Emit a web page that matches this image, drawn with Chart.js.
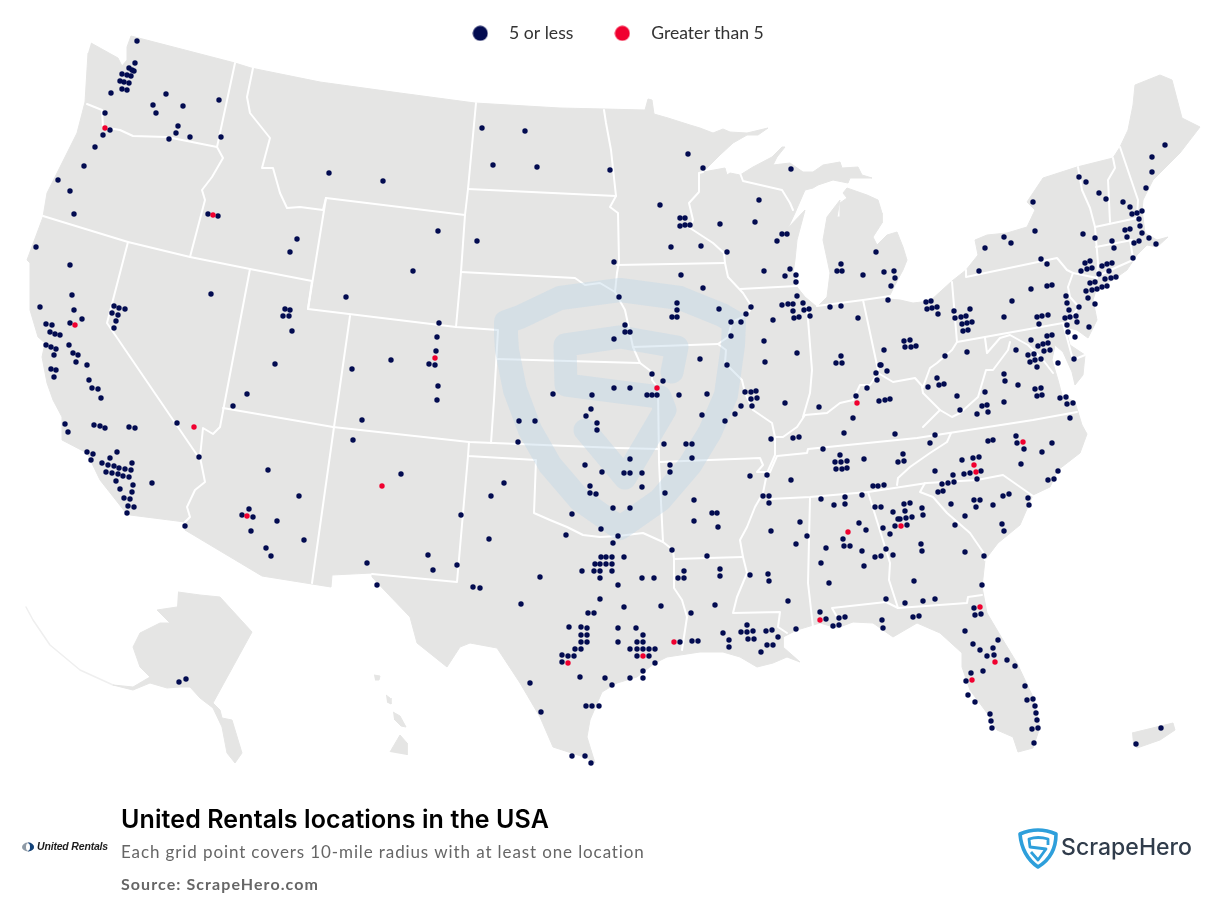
<!DOCTYPE html>
<html><head><meta charset="utf-8">
<style>html,body{margin:0;padding:0;background:#fff}canvas{display:block}</style>
<script src="https://cdn.jsdelivr.net/npm/chart.js@4/dist/chart.umd.min.js"></script>
</head><body><canvas id="c" width="1224" height="902"></canvas>
<script>
const seriesNames=["5 or less","Greater than 5"];
const titleText="United Rentals locations in the USA";
const subtitleText="Each grid point covers 10-mile radius with at least one location";
const sourceText="Source: ScrapeHero.com";
const fiveOrLess=[[137,41],[135,63],[129,68],[132,70],[134,71],[122,74],[127,75],[131,76],[120,81],[124,82],[129,83],[122,89],[127,90],[111,93],[166,94],[153,105],[156,113],[183,106],[219,100],[105,113],[178,126],[176,133],[169,139],[190,137],[221,137],[110,130],[103,135],[95,147],[84,166],[58,180],[70,191],[74,214],[208,214],[218,216],[297,239],[290,252],[36,247],[70,265],
[72,295],[211,294],[40,307],[74,310],[114,306],[119,308],[125,309],[112,313],[118,315],[116,321],[114,328],[82,319],[46,324],[52,325],[70,323],[50,332],[55,334],[60,335],[46,345],[51,347],[56,349],[69,345],[73,353],[78,355],[54,355],[76,362],[87,365],[51,369],[56,370],[54,377],[89,380],[92,388],[98,389],[101,398],[65,424],[68,432],[94,425],[100,426],[105,428],[129,427],[135,428],[177,423],[199,457],[117,452],[87,452],[93,454],[91,460],[110,458],[132,463],[102,463],[108,465],[114,466],[119,468],[125,469],[131,470],[106,472],[112,473],[118,474],[123,476],[129,477],[116,481],[152,483],[133,485],[120,489],[132,492],[124,498],[130,499],[128,506],[134,507],[127,513],[185,526],
[285,309],[290,310],[283,316],[289,316],[292,331],[275,364],[247,394],[233,406],[268,470],[299,496],[249,509],[242,515],[253,517],[277,521],[251,531],[304,540],[266,548],[271,556],
[482,128],[525,131],[493,165],[537,167],[610,170],[329,173],[383,181],[438,231],[477,241],[413,271],[614,262],[346,297],[619,297],[439,323],[437,337],[436,351],[429,364],[435,365],[614,339],[438,386],[437,400],[352,369],[391,360],[553,394],[592,395],[614,388],
[591,409],[586,416],[597,423],[597,430],[519,421],[535,421],[362,420],[353,440],[518,442],[585,465],[602,472],[401,474],[504,483],[590,486],[491,496],[590,493],[596,494],[613,508],[572,514],[461,515],[601,529],[566,535],[618,536],[489,539],[613,543],[428,555],[601,557],[606,557],[612,557],[595,564],[600,564],[606,564],[612,564],[582,571],[594,571],[600,571],[612,571],[600,578],[367,563],[433,570],[457,565],[540,577],[377,585],[473,587],[480,588],[618,585],[521,604],[600,599],[588,613],[594,613],[569,627],[581,627],[587,628],[618,628],[581,635],[587,635],[581,642],[587,642],[618,642],[575,649],[581,649],[562,655],[568,656],[574,656],[562,662],[580,677],[605,678],[530,683],[612,685],[586,706],[592,706],[599,706],[541,712],[572,756],[585,756],[591,763],
[688,154],[703,168],[791,169],[660,205],[759,200],[680,218],[685,218],[680,226],[685,225],[690,225],[720,224],[755,222],[782,234],[787,234],[777,241],[671,247],[701,246],[727,252],[876,252],[841,264],[837,271],[842,271],[884,272],[894,271],[764,271],[790,269],[785,276],[796,275],[863,275],[895,278],[796,282],[891,286],[681,275],[703,288],[797,296],[888,300],[803,303],[782,305],[788,304],[793,304],[677,303],[830,307],[841,306],[751,307],[677,310],[719,309],[793,311],[804,310],[809,309],[746,314],[810,316],[672,317],[677,317],[794,318],[799,317],[858,318],[773,320],[731,322],[741,322],[625,325],[625,332],[630,332],[731,336],[764,341],[884,350],[797,353],[841,356],[700,359],[836,363],[842,363],[765,362],[880,365],[881,365],[727,365],[887,371],[876,373],[652,374],[877,380],[663,381],[867,388],[630,388],[647,395],[652,395],[657,395],[679,395],[707,394],[745,392],[751,392],[756,391],[751,399],[757,398],[856,396],[879,401],[885,400],[890,399],[741,406],[752,406],[785,403],[819,407],[735,414],[702,415],[853,418],[725,421],[844,433],[895,434],[771,439],[793,438],[799,437],
[664,444],[686,444],[692,444],[630,459],[692,458],[823,449],[840,455],[835,462],[841,462],[847,461],[864,459],[898,462],[670,465],[670,472],[624,473],[630,473],[642,473],[750,476],[767,475],[836,469],[842,469],[847,468],[791,480],[642,487],[873,486],[878,486],[884,485],[665,493],[763,496],[769,496],[769,503],[862,495],[821,499],[845,497],[845,504],[834,505],[694,500],[875,507],[881,507],[893,512],[630,508],[712,513],[717,513],[898,519],[694,521],[800,522],[859,523],[895,526],[883,528],[866,530],[771,531],[718,527],[890,534],[807,536],[843,539],[796,544],[844,546],[850,546],[826,548],[672,550],[886,549],[862,551],[893,555],[875,557],[881,556],[707,556],[624,557],[821,563],[864,566],[720,569],[684,571],[720,576],[678,578],[684,578],[642,578],[654,578],[750,575],[768,574],[769,581],[829,583],[886,599],[788,601],[624,607],[661,606],[715,605],[820,612],[691,613],[826,619],[839,618],[845,617],[882,620],[636,628],[747,625],[883,628],[796,629],[833,626],[839,625],[772,630],[766,631],[741,632],[747,632],[753,631],[643,635],[723,633],[778,637],[637,642],[643,642],[748,639],[754,639],[729,640],[680,642],[692,641],[698,641],[767,645],[773,645],[729,647],[630,649],[637,649],[643,649],[649,649],[655,649],[761,652],[637,656],[649,656],[655,663],[643,671],[630,678],[643,678],
[1165,145],[1152,157],[1152,172],[1079,177],[1086,182],[1146,188],[1099,193],[1106,199],[1033,202],[1123,202],[1130,207],[1142,211],[1137,213],[1132,214],[1139,219],[1140,226],[1130,229],[1125,230],[1142,233],[1127,237],[1149,238],[1139,241],[1134,243],[1156,244],[1035,231],[1083,234],[1095,238],[1112,241],[1114,248],[1004,237],[1011,243],[985,248],[1041,259],[1047,264],[1133,258],[1085,263],[1090,261],[1102,266],[1107,264],[1112,263],[1081,271],[1087,269],[1092,268],[1109,271],[1099,274],[979,271],[1105,279],[1111,278],[1116,277],[1090,283],[1095,282],[1047,286],[1052,285],[1031,289],[1107,286],[1102,287],[1097,289],[1092,290],[1086,291],[1066,296],[1088,298],[926,302],[931,301],[1012,301],[1067,303],[1095,304],[927,309],[932,308],[937,307],[938,314],[954,311],[970,309],[1079,307],[1069,310],[961,317],[966,316],[955,318],[1037,317],[1042,316],[1048,315],[1004,317],[1065,318],[1070,317],[1076,316],[1077,322],[962,324],[967,323],[972,322],[1039,324],[1067,325],[1089,327],[963,331],[968,330],[1068,332],[1047,336],[1052,335],[1075,337],[1031,340],[904,341],[910,340],[1048,343],[1043,344],[1038,346],[905,347],[911,347],[916,346],[1044,351],[1050,350],[1016,350],[967,352],[1028,355],[1034,354],[945,356],[1041,359],[1035,360],[1030,362],[1074,359],[1058,363],[1037,367],[1004,374],[937,378],[1005,381],[1018,385],[939,385],[944,384],[928,387],[1035,389],[1041,388],[957,396],[985,392],[1037,396],[1042,395],[1060,398],[1066,397],[987,405],[982,406],[1067,404],[1073,403],[1004,402],[960,410],[988,412],[977,414],[1070,418],
[935,435],[930,443],[1016,436],[988,441],[993,440],[1017,443],[1024,449],[1052,443],[1042,452],[973,458],[979,457],[962,460],[1021,464],[903,454],[904,461],[935,471],[953,475],[964,474],[970,473],[981,471],[977,479],[1058,471],[1054,479],[1048,480],[942,484],[948,483],[954,482],[943,491],[938,492],[1028,498],[1009,494],[1003,496],[974,500],[980,500],[993,505],[1029,505],[976,507],[951,504],[904,504],[910,503],[922,508],[905,511],[923,515],[906,518],[912,517],[900,519],[965,516],[1002,524],[1004,531],[955,525],[907,525],[921,544],[922,551],[965,552],[984,556],[914,581],[982,585],[905,603],[923,601],[935,599],[974,608],[975,615],[981,614],[913,617],[919,616],[965,631],[998,640],[973,644],[993,648],[980,650],[994,655],[987,656],[1007,660],[1015,666],[983,671],[971,673],[966,681],[1025,686],[968,695],[1033,699],[1027,700],[975,702],[1035,706],[1036,713],[990,714],[1037,720],[991,721],[1038,728],[1032,729],[992,728],[1034,743],
[179,682],[186,679],[1161,728],[1136,744]];
const greaterThanFive=[[105,128],[213,215],[75,325],[194,427],[247,516],[435,358],[382,486],[568,663],[657,388],[857,403],[674,642],[848,532],[820,620],[643,656],[1023,442],[974,465],[976,472],[901,526],[980,607],[995,662],[972,680]];

const mainland=[[91,43],[118,58],[122,66],[127,60],[127,47],[131,36],[235,63],[251,68],[320,82],[400,93],[475,103],[560,108],[604,109],[645,110],[648,99],[652,100],[654,114],[668,118],[690,125],[700,128],[713,133],[723,129],[730,132],[747,133],[768,128],[758,135],[747,135],[733,143],[720,155],[703,172],[725,168],[727,175],[730,173],[740,175],[753,167],[772,157],[782,147],[785,147],[777,157],[773,165],[790,163],[803,172],[813,172],[823,165],[840,162],[842,168],[858,167],[862,175],[872,178],[850,178],[848,183],[833,180],[818,185],[813,188],[805,190],[795,213],[788,228],[805,210],[797,240],[795,260],[793,273],[797,287],[805,297],[817,307],[827,297],[830,273],[823,240],[827,217],[840,200],[837,217],[840,217],[840,203],[847,198],[843,193],[847,188],[867,195],[878,200],[882,213],[882,223],[873,237],[877,245],[887,235],[897,232],[903,247],[907,260],[903,270],[895,285],[888,299],[900,300],[913,303],[930,301],[952,281],[966,270],[978,255],[975,240],[987,235],[1007,233],[1027,227],[1035,210],[1027,202],[1043,178],[1077,167],[1113,158],[1120,147],[1128,130],[1133,105],[1135,85],[1160,75],[1172,80],[1182,118],[1200,127],[1190,140],[1180,153],[1170,163],[1153,180],[1143,200],[1142,210],[1143,217],[1145,233],[1157,240],[1168,237],[1157,247],[1147,245],[1137,255],[1127,270],[1113,280],[1097,287],[1093,300],[1097,320],[1088,338],[1077,330],[1065,327],[1070,345],[1085,355],[1083,375],[1075,385],[1072,372],[1063,352],[1055,345],[1052,360],[1058,380],[1062,395],[1075,402],[1078,412],[1082,425],[1087,434],[1080,453],[1058,470],[1050,487],[1033,495],[1020,525],[998,543],[985,560],[982,587],[987,613],[1003,640],[1017,663],[1033,697],[1040,727],[1033,748],[1018,752],[1013,737],[997,730],[987,713],[970,690],[962,667],[962,653],[940,633],[917,623],[893,637],[873,623],[853,622],[837,628],[820,623],[797,630],[783,637],[783,647],[800,662],[787,657],[773,663],[757,667],[740,657],[723,652],[700,652],[667,657],[655,663],[637,677],[617,683],[602,692],[590,720],[587,737],[595,763],[587,758],[553,747],[540,717],[520,683],[497,648],[470,643],[460,647],[447,667],[417,643],[410,617],[387,593],[372,577],[372,573],[332,575],[331,587],[312,584],[262,576],[185,530],[185,522],[130,515],[126,513],[100,480],[87,453],[62,440],[62,417],[53,400],[47,383],[42,357],[45,343],[38,337],[30,310],[30,287],[30,263],[27,260],[43,217],[47,193],[77,133],[85,102],[88,53]];
const alaska=[[178,592],[200,595],[220,597],[252,632],[213,703],[220,710],[222,718],[232,720],[242,753],[235,763],[227,753],[222,727],[213,708],[200,698],[190,687],[180,687],[167,688],[150,683],[133,690],[113,685],[133,687],[150,677],[140,667],[133,647],[140,633],[160,623],[170,623],[157,610],[177,607]];
const hawaiiBig=[[390,752],[400,735],[407,743],[407,755]];
const hawaiiMaui=[[393,712],[400,716],[406,727],[401,726],[394,719]];
const hawaiiOahu=[[386,695],[390,698],[391,704],[387,702]];
const hawaiiKauai=[[374,675],[380,676],[379,680],[375,680]];
const puertoRico=[[1132,733],[1173,723],[1175,730],[1160,740],[1137,748],[1133,743]];
const aleutians=[[113,685],[80,670],[50,645],[33,620],[26,607]];
const stateBorders=[
[[87,104],[102,110],[103,127],[120,130],[133,136],[167,137],[217,147]],
[[235,63],[217,147],[223,158],[212,177],[202,190],[205,200],[190,257]],
[[253,68],[247,97],[250,113],[270,138],[262,168],[273,168],[280,193],[287,208],[300,207],[323,210],[326,198]],
[[326,198],[465,215],[461,272],[456,327]],
[[326,198],[308,309],[456,327],[498,330],[494,400],[491,443]],
[[461,272],[575,278],[585,285],[600,283],[615,292],[625,310],[633,347],[640,363],[652,372],[652,380],[658,388],[659,462],[663,542]],
[[497,359],[640,363]],
[[333,427],[469,442],[618,448],[659,449]],
[[469,442],[468,456],[536,460],[534,513],[550,520],[567,527],[583,535],[600,537],[618,536],[643,533],[663,542],[673,550],[674,559],[743,557]],
[[468,456],[457,582],[372,574]],
[[674,559],[674,588],[682,600],[687,617],[682,650]],
[[468,189],[616,196]],
[[476,103],[468,189],[465,215]],
[[604,110],[606,123],[611,150],[615,187],[616,196],[610,207],[618,213],[619,262],[617,273],[615,292]],
[[617,265],[725,263]],
[[703,172],[699,173],[699,192],[689,203],[693,220],[690,228],[713,243],[724,253],[725,263],[728,277],[743,293],[752,307],[747,315],[732,322],[728,337],[718,344],[726,350],[725,363],[742,380],[745,393],[753,410],[772,423],[775,437],[775,455],[767,473],[763,493],[755,507],[747,527],[740,540],[743,557],[747,573],[737,597],[733,613],[780,612],[778,627],[787,633]],
[[633,347],[718,344]],
[[659,462],[760,458],[763,465],[757,472],[770,472],[777,456],[807,453],[808,449],[917,438],[1033,420],[1077,412]],
[[810,498],[808,583],[813,627]],
[[770,499],[810,497],[868,492],[927,483],[977,480],[1003,475],[1033,496]],
[[897,485],[898,478],[910,467],[930,453],[947,442],[951,433]],
[[925,483],[920,492],[933,497],[947,513],[970,533],[983,552],[985,560]],
[[868,492],[890,563],[889,580],[898,608]],
[[837,617],[832,608],[886,602],[898,608],[967,603],[968,597],[982,595]],
[[807,307],[812,370],[810,393],[803,417]],
[[775,437],[783,437],[797,427],[805,415],[827,413],[840,403],[853,400],[860,385],[870,385],[878,373],[893,382],[915,378],[923,387],[930,368],[937,363],[952,350],[957,342],[952,282]],
[[863,300],[878,370]],
[[817,306],[863,300],[897,295]],
[[740,289],[797,286]],
[[740,173],[743,181],[782,190],[790,203],[793,210]],
[[966,270],[966,277],[1057,258],[1067,270],[1073,273],[1097,278]],
[[1073,273],[1068,287],[1070,297],[1079,307],[1067,323]],
[[957,342],[1063,323],[1073,360],[1085,355]],
[[985,338],[987,353],[1000,338],[1010,335],[1028,345],[1043,360],[1053,373]],
[[1010,342],[1008,350],[993,370],[986,370],[978,397],[960,413],[952,417],[940,410],[923,393],[922,387]],
[[940,410],[923,427]],
[[1078,167],[1082,190],[1090,208],[1095,227],[1098,263],[1097,278]],
[[1113,158],[1115,168],[1108,180],[1110,222]],
[[1095,227],[1137,218]],
[[1096,247],[1132,240]],
[[1130,240],[1133,258]],
[[1120,147],[1138,200],[1137,217]],
[[1098,276],[1115,268],[1133,260]],
[[43,216],[128,242],[190,257],[250,269],[312,281],[308,309]],
[[128,242],[107,323],[197,455]],
[[250,269],[220,427],[213,434],[203,428],[200,457],[205,482],[195,490],[187,507],[190,517],[185,522]],
[[350,316],[338,400],[334,427],[312,583]],
[[223,408],[333,427]]
];
const watermarkOuter=[[507,350],[506,335],[506,322],[520,317],[560,298],[620,290],[680,298],[722,315],[734,322],[733,345],[726,395],[710,432],[690,465],[660,500],[620,528],[580,500],[550,465],[530,430],[515,390],[507,350]];
const watermarkInner=[[672,372],[677,347],[620,337],[565,345],[566,385],[620,392],[660,397],[665,410],[625,478],[585,430]];

const toPts=a=>a.map(p=>({x:p[0],y:p[1]}));
const land="#E5E5E4";
const shape=(d)=>({data:toPts(d),showLine:true,fill:'shape',backgroundColor:land,borderColor:land,borderWidth:1,pointRadius:0,tension:0,label:''});
const line=(d,c,w)=>({data:toPts(d),showLine:true,fill:false,borderColor:c,borderWidth:w,pointRadius:0,tension:0,label:'',borderJoinStyle:'round',borderCapStyle:'round'});
const navy="#020B50",red="#F0002F";
const dots=(name,d,c)=>({label:name,data:toPts(d),backgroundColor:c,borderColor:c,borderWidth:0,pointRadius:2.7,pointHoverRadius:2.7,showLine:false});
function swatch(c){const k=document.createElement('canvas');k.width=16;k.height=16;const g=k.getContext('2d');g.fillStyle=c;g.beginPath();g.arc(8,8,7.5,0,Math.PI*2);g.fill();return k;}
const swatches=[swatch(navy),swatch(red)];

const datasets=[
 dots(seriesNames[1],greaterThanFive,red),
 dots(seriesNames[0],fiveOrLess,navy),
 line(watermarkInner,"rgba(190,215,232,0.42)",23),
 line(watermarkOuter,"rgba(190,215,232,0.42)",24),
 ...stateBorders.map(b=>line(b,"#FFFFFF",2)),
 shape(alaska),shape(hawaiiBig),shape(hawaiiMaui),shape(hawaiiOahu),shape(hawaiiKauai),shape(puertoRico),
 line(aleutians,"#EFEFEF",1.5),
 shape(mainland)
];
function fitText(g,text,x,y,font,color,width){g.font=font;g.fillStyle=color;g.textBaseline='middle';g.textAlign='left';g.letterSpacing='0px';
 const w=g.measureText(text).width;g.letterSpacing=((width-w)/text.length).toFixed(3)+'px';g.fillText(text,x,y);g.letterSpacing='0px';}
const fullArea={id:'fullArea',afterLayout(ch){const a=ch.chartArea,y=ch.scales.y;a.top=0;a.height=a.bottom;y.top=0;y.height=y.bottom;y.configure();}};
const captions={id:'captions',afterDraw(ch){const g=ch.ctx;g.save();
 fitText(g,titleText,121,820,'600 25px Inter, Lato',"#000",428);
 fitText(g,subtitleText,121,852.5,'400 17px Lato',"#666",524);
 fitText(g,sourceText,121,884.5,'700 16px Lato',"#666",198);
 // United Rentals logo
 g.fillStyle="#8E9AA6";g.beginPath();g.ellipse(28,847,6,4.4,0,0,Math.PI*2);g.fill();
 g.fillStyle="#12427A";g.beginPath();g.ellipse(28,847,6,4.4,0,-Math.PI/2,Math.PI/2);g.fill();
 g.fillStyle="#fff";g.beginPath();g.ellipse(28,847,2,3.8,0,0,Math.PI*2);g.fill();
 fitText(g,"United Rentals",37,847,'italic 700 10.5px "Liberation Sans"',"#1c1c1c",71);
 // ScrapeHero logo
 g.strokeStyle="#2E9FDB";g.lineJoin='round';g.lineWidth=3.6;g.beginPath();
 g.moveTo(1020,834);g.quadraticCurveTo(1038,826,1056,834);g.quadraticCurveTo(1056,856,1038,867);g.quadraticCurveTo(1022,856,1020,834);g.closePath();g.stroke();
 g.lineWidth=2.8;g.beginPath();g.moveTo(1048,845);g.lineTo(1048,839);g.quadraticCurveTo(1038,836,1029,839);g.lineTo(1030,847);g.lineTo(1046,849);g.lineTo(1038,860);g.lineTo(1031,852);g.stroke();
 fitText(g,"ScrapeHero",1061,848.5,'500 23px Inter, Lato',"#303C4B",131);
 g.restore();}};
const chart=new Chart(document.getElementById('c'),{type:'scatter',data:{datasets},plugins:[fullArea,captions],
 options:{responsive:false,animation:false,events:[],devicePixelRatio:1,layout:{autoPadding:false,padding:{top:-4.5,left:0,right:0,bottom:0}},
  scales:{x:{type:'linear',display:false,min:0,max:1224},y:{type:'linear',display:false,reverse:true,min:0,max:902}},
  plugins:{tooltip:{enabled:false},title:{display:false},
   legend:{display:true,position:'top',align:'center',labels:{usePointStyle:true,pointStyleWidth:40,padding:29,color:"#333",font:{family:'Lato',size:17.6},
    generateLabels(ch){const items=Chart.defaults.plugins.legend.labels.generateLabels(ch).slice(0,2).reverse();
     return items.map((it,i)=>({...it,pointStyle:swatches[i]}));}}}}}});
</script></body></html>
